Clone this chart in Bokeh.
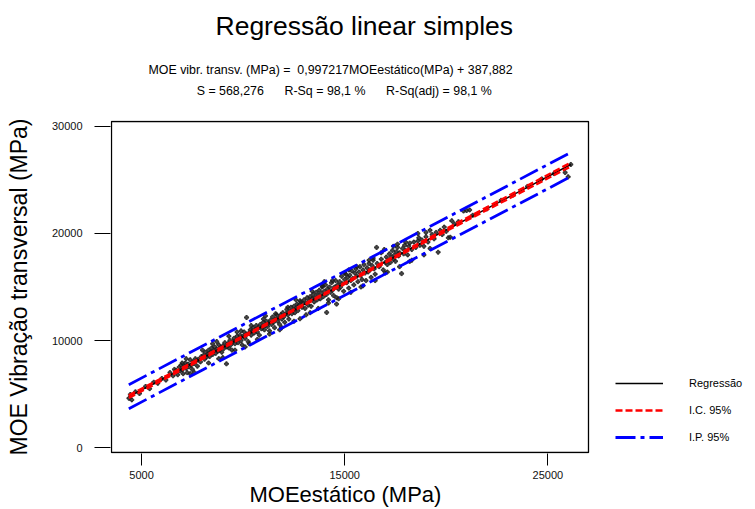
from bokeh.plotting import figure
from bokeh.models import Range1d, FixedTicker, Legend, LegendItem, Title, BoxAnnotation
from bokeh.embed import file_html
from bokeh.resources import INLINE

# ---------------- data ----------------
moe_est = [4380, 4450, 4520, 4700, 4900, 5200, 5400, 5600, 5800, 6000, 6200, 6400,
           6550, 6620, 6700, 6780, 6850, 6900, 6950, 7000, 7050, 7100, 7150, 7200, 7250, 7300,
           7350, 7400, 7450, 7500, 7550, 7600, 7650, 7700, 7750, 7800, 7900, 7950,
           8050, 8100, 8150, 8200, 8250, 8300, 8350, 8400, 8450, 8500, 8550, 8600, 8650, 8700,
           8750, 8800, 8850, 8900, 8950, 9000, 9050, 9100, 9180, 9200, 9250, 9300, 9350, 9400,
           9450, 9500, 9550, 9600, 9650, 9700, 9750, 9800, 9850, 9900, 9950, 10000, 10050, 10100,
           10170, 10200, 10250, 10300, 10350, 10400, 10450,
           10500, 10550, 10600, 10650, 10700, 10750, 10800, 10850, 10900, 10950, 11000, 11050,
           11100, 11150, 11200, 11250, 11300, 11350, 11400, 11450, 11500, 11550, 11600, 11650,
           11700, 11750, 11800, 11850, 11900, 11950, 12000, 12050, 12100, 12150, 12200, 12250,
           12300, 12350, 12400, 12450,
           12500, 12550, 12600, 12650, 12700, 12750, 12800, 12850, 12900, 12950, 13000, 13050,
           13100, 13150, 13200, 13250, 13300, 13350, 13400, 13450, 13500, 13550, 13600, 13650,
           13700, 13750, 13800, 13850, 13900, 13950, 14000, 14050, 14100, 14113, 14150, 14200,
           14250, 14300, 14350, 14400, 14450, 14500,
           14550, 14600, 14650, 14700, 14750, 14800, 14850, 14900, 14950, 15000, 15050, 15100,
           15150, 15200, 15250, 15300, 15350, 15400, 15450, 15500, 15550, 15600, 15650, 15700,
           15750, 15800, 15850, 15900, 15950, 16000, 16050, 16100, 16150, 16200, 16250, 16300,
           16350, 16400, 16450, 16500, 16570, 16600, 16700, 16800, 16900, 16950, 17000,
           17050, 17100, 17150, 17200, 17250, 17300, 17350, 17400, 17450, 17500, 17550, 17600,
           17650, 17700, 17800, 17850, 17900, 17950, 18000, 18100, 18150, 18200, 18300, 18400,
           18500, 18600, 18650, 18700, 18800, 18900, 19000, 19100, 19200, 19300, 19400,
           19500, 19600, 19700, 19800, 19900, 20000, 20100, 20200, 20270, 20400, 20600, 20850,
           21000, 21150, 21300,
           22000, 22700, 23300, 24000, 24700, 25300, 25850, 26000, 26130,
           7200, 7600, 8000, 8300, 8700, 9000, 9300, 9600, 9900, 10100, 10400, 10700,
           11000, 11300, 11600, 11900, 12200, 12500, 12800, 13100, 13400, 13700, 13900, 14200,
           14400, 14700, 15000, 15300, 15600, 15900, 16200, 16500, 16800, 17100, 17400, 17700,
           18000, 18300, 18600, 18900, 19200, 7000, 7400, 8500, 8800, 9700, 10300, 11100,
           11800, 12600, 13300, 14000, 14600, 15200, 15800, 16400, 17000, 17600, 18200, 19000]
moe_vib = [4600, 4950, 4450, 5200, 5050, 5700, 5500, 6100, 6000, 6450, 6300, 7000,
           6700, 7300, 7200, 6800, 7500, 7150, 7700, 7250, 6900, 7600, 7900, 7400, 7000, 7800,
           7550, 8200, 7700, 7300, 8000, 7850, 8300, 8100, 7600, 8250, 8000, 8500,
           8600, 8250, 8900, 8450, 8700, 9100, 8500, 8900, 9300, 8700, 9050, 9400, 8800, 9200,
           9000, 9600, 9100, 9350, 8900, 9500, 9250, 9800, 7820, 9400, 9700, 9300, 10000, 9600,
           9100, 9900, 10200, 9700, 10000, 10400, 9800, 10150, 10500, 10000, 9600, 10400, 10800, 10200,
           12150, 10600, 9900, 10700, 11000, 10500, 10900,
           11200, 10700, 11000, 11400, 10800, 11200, 10500, 11500, 11100, 11300, 11700, 11000,
           11400, 11800, 11300, 11600, 10900, 11900, 11500, 12200, 11700, 11200, 12000, 12400,
           11800, 12100, 11500, 12400, 12000, 12600, 12200, 11700, 12500, 12900, 12400, 12000,
           12700, 13100, 12500, 12800,
           13200, 12600, 13000, 13400, 12800, 13300, 12030, 13600, 13100, 13500, 13800, 13000,
           13500, 14000, 13300, 13700, 14100, 13200, 13900, 14300, 13600, 14000, 14500, 13800,
           14200, 14700, 13900, 14400, 15000, 14100, 14600, 15200, 14300, 12620, 14800, 13800,
           15000, 14500, 15400, 14700, 14200, 15000,
           15600, 13400, 15200, 14800, 15500, 15000, 16000, 15300, 14600, 15700, 16200, 15400,
           15900, 14900, 16100, 15600, 16500, 15800, 15200, 16300, 16700, 16000, 15500, 16400,
           16900, 16100, 15700, 16600, 17100, 16300, 15600, 16800, 16400, 17200, 16600, 15900,
           17000, 17500, 16700, 16200, 18700, 17200, 16900, 17600, 16600, 18500, 17300,
           17800, 17100, 17500, 18100, 17300, 17800, 18400, 17600, 18000, 17400, 18300, 18700,
           17900, 18200, 16250, 18600, 18100, 18900, 18400, 18000, 18800, 19100, 18500, 19200,
           18700, 19300, 19600, 18900, 19400, 18800, 19700, 19200, 18600, 19900, 19500,
           20100, 18250, 20300, 19900, 20600, 20200, 19600, 19650, 21190, 20900, 21100, 22100,
           22150, 22200, 21700,
           22300, 23100, 23600, 24400, 25100, 25600, 25700, 25300, 26450,
           8300, 7000, 9100, 7900, 9900, 8400, 10400, 9100, 10900, 9400, 11400, 10100,
           12000, 10600, 12500, 11200, 13100, 11800, 13710, 12400, 14600, 13000, 15100, 13500,
           15600, 13900, 16300, 14500, 16900, 15110, 17500, 15600, 18200, 16400, 18800, 16900,
           19200, 17500, 20000, 18000, 20300, 7900, 6900, 9700, 8300, 10800, 9700, 12300,
           11000, 13800, 12600, 15500, 14000, 16600, 15000, 17700, 16300, 19000, 17400, 20100]

# fitted line, confidence (I.C.) and prediction (I.P.) bands
band_x = [4374, 8000, 13000, 18000, 22000, 26133]
fit_y = [4750, 8366, 13352, 18338, 22327, 26449]
ci_hi = [4868, 8446, 13402, 18418, 22450, 26620]
ci_lo = [4632, 8286, 13302, 18258, 22204, 26278]
pi_hi = [5872, 9485, 14469, 19457, 23450, 27578]
pi_lo = [3628, 7247, 12235, 17219, 21204, 25320]

x_ticks = [5000, 15000, 25000]
y_ticks = [0, 10000, 20000, 30000]
x_box = (3522, 27000)     # extent of the plotted data box
y_box = (-467, 30467)

NB = "\u00a0"
title_txt = "Regressão linear simples"
eq_txt = "MOE vibr. transv. (MPa) =" + NB * 2 + "0,997217MOEestático(MPa) + 387,882"
stats_txt = "S = 568,276" + NB * 6 + "R-Sq = 98,1 %" + NB * 6 + "R-Sq(adj) = 98,1 %"
x_label = "MOEestático (MPa)"
y_label = "MOE Vibração transversal (MPa)"

# ---------------- layout ----------------
W, H = 755, 509
FONT = "Liberation Sans"
# the canvas frame spans x 110..750, y 120..453; the visible box is 111..588 x 121..452
p = figure(width=W, height=H, output_backend="svg", toolbar_location=None,
           x_range=Range1d(3473, 34974), y_range=Range1d(-560, 30560),
           min_border_left=110, min_border_right=5,
           min_border_top=120, min_border_bottom=56)
p.background_fill_color = "white"
p.border_fill_color = "white"
p.outline_line_color = None
p.grid.visible = False
p.add_layout(BoxAnnotation(left=x_box[0], right=x_box[1], bottom=y_box[0], top=y_box[1],
                           fill_alpha=0, line_color="black", line_alpha=1.0, line_width=1.3))

# axes
p.xaxis.ticker = FixedTicker(ticks=x_ticks)
p.yaxis.ticker = FixedTicker(ticks=y_ticks)
p.xaxis.bounds = x_box
p.yaxis.bounds = y_box
for ax in (p.xaxis[0], p.yaxis[0]):
    ax.minor_tick_line_color = None
    ax.major_tick_in = 0
    ax.major_label_text_font = FONT
    ax.major_label_text_font_size = "11px"
    ax.major_label_text_color = "#111111"
    ax.major_tick_line_color = "black"
    ax.major_tick_line_width = 1
    ax.axis_line_color = None
    ax.axis_label_text_font = FONT
    ax.axis_label_text_font_style = "normal"
    ax.axis_label_text_color = "black"
p.yaxis.major_tick_out = 16
p.yaxis.major_label_standoff = 12
p.yaxis.axis_label = y_label
p.yaxis.axis_label_text_font_size = "23px"
p.yaxis.axis_label_standoff = 17
p.xaxis.major_tick_out = 12
p.xaxis.major_label_standoff = 5

# scatter
p.scatter(moe_est, moe_vib, marker="plus", size=4, color="#1e1e1e", alpha=0.8)

# lines
r_fit = p.line(band_x, fit_y, line_color="black", line_width=1.5)
r_pi = p.line(band_x, pi_hi, line_color="#0000ff", line_width=2.8, line_dash="20 5 4 5")
p.line(band_x, pi_lo, line_color="#0000ff", line_width=2.8, line_dash="20 5 4 5")
r_ci = p.line(band_x, ci_hi, line_color="#ff0000", line_width=2.5, line_dash="7 3")
p.line(band_x, ci_lo, line_color="#ff0000", line_width=2.5, line_dash="7 3")

legend = Legend(items=[LegendItem(label="Regressão", renderers=[r_fit]),
                       LegendItem(label="I.C. 95%", renderers=[r_ci]),
                       LegendItem(label="I.P. 95%", renderers=[r_pi])],
                location=(505, 6), orientation="vertical",
                glyph_width=48, glyph_height=20, label_height=20, label_standoff=26,
                spacing=7, padding=0, margin=0,
                border_line_color=None, background_fill_alpha=0,
                label_text_font=FONT, label_text_font_size="11px", label_text_color="black")
p.add_layout(legend, "center")

# x axis title, placed under the tick labels
p.add_layout(Title(text=x_label, align="left", offset=139, text_font=FONT,
                   text_font_size="22px", text_font_style="normal", vertical_align="top",
                   standoff=0, text_color="black"), "below")

# titles (first added sits closest to the frame)
sub = Title(text=eq_txt + "\n" + NB * 14 + stats_txt, align="left", offset=38,
            text_font=FONT, text_font_size="12.4px", text_font_style="normal",
            text_line_height=1.5, vertical_align="top", standoff=42, text_color="black")
p.add_layout(sub, "above")
main = Title(text=title_txt, align="left", offset=105, text_font=FONT,
             text_font_size="26.5px", text_font_style="normal", vertical_align="bottom",
             standoff=2, text_color="black")
p.add_layout(main, "above")

open("out.html", "w").write(file_html(p, INLINE))
